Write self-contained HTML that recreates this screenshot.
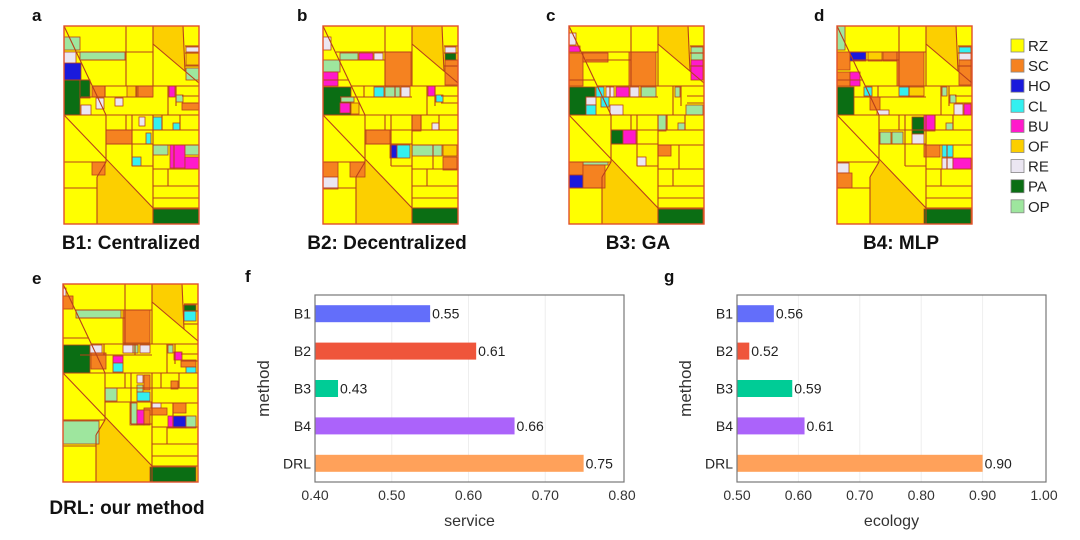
<!DOCTYPE html>
<html><head><meta charset="utf-8"><style>
body{margin:0;width:1080px;height:540px;background:#fff;position:relative;overflow:hidden;font-family:"Liberation Sans",sans-serif}
.lbl{position:absolute;font-weight:bold;font-size:17px;color:#111}
.ttl{position:absolute;font-family:"Liberation Sans",sans-serif;font-weight:bold;font-size:19px;color:#111;white-space:nowrap;transform:translateX(-50%)}
svg{position:absolute;overflow:visible}
</style></head><body>
<div class="lbl" style="left:32px;top:6px">a</div>
<div class="lbl" style="left:297px;top:6px">b</div>
<div class="lbl" style="left:546px;top:6px">c</div>
<div class="lbl" style="left:814px;top:6px">d</div>
<div class="lbl" style="left:32px;top:269px">e</div>
<div class="lbl" style="left:245px;top:267px">f</div>
<div class="lbl" style="left:664px;top:267px">g</div>
<div class="ttl" style="left:131px;top:233px">B1: Centralized</div>
<div class="ttl" style="left:387px;top:233px">B2: Decentralized</div>
<div class="ttl" style="left:638px;top:233px">B3: GA</div>
<div class="ttl" style="left:901px;top:233px">B4: MLP</div>
<div class="ttl" style="left:127px;top:498px">DRL: our method</div>

<svg id="maps" width="1080" height="540" style="left:0;top:0"></svg>
<svg id="charts" width="1080" height="540" style="left:0;top:0"></svg>

<script>
const NS='http://www.w3.org/2000/svg';
const COL={RZ:'#ffff00',SC:'#f58220',HO:'#1a1adc',CL:'#33f0f0',BU:'#ff1acb',OF:'#fccf00',RE:'#ebe6f2',PA:'#0b6e14',OP:'#9ee69e'};
const legendTypes=['RZ','SC','HO','CL','BU','OF','RE','PA','OP'];
const mapPos=[[64,26],[323,26],[569,26],[837,26],[63,284]];
const mapNames=['map-b1','map-b2','map-b3','map-b4','map-drl'];
const blocks=[
[['OP',0,11,16,13],['OP',16,26,45,8],['RE',0,26,12,13],['HO',0,37,17,17],['PA',0,54,16,35],['PA',16,54,10,18],['SC',28,60,13,11],['SC',74,60,15,11],['OF',63,60,10,11],['BU',105,60,6,11],['OP',112,69,7,7],['SC',118,77,17,7],['RE',17,79,10,10],['RE',32,72,8,11],['RE',51,72,8,8],['OF',122,27,13,12],['RE',122,21,13,5],['OP',122,42,13,12],['RE',75,91,6,9],['CL',89,91,9,13],['CL',109,97,7,7],['CL',82,107,5,11],['SC',42,104,26,14],['OP',89,119,15,10],['BU',106,119,15,23],['BU',121,131,14,12],['OP',121,119,14,10],['CL',68,131,9,9],['SC',28,136,13,13],['PA',89,183,46,15]],
[['RE',0,11,8,13],['OP',17,27,18,7],['BU',36,27,14,7],['RE',51,27,9,7],['OP',0,34,17,12],['BU',0,46,15,14],['PA',0,61,28,28],['OP',18,71,13,5],['BU',17,77,10,10],['OF',28,77,8,11],['SC',62,26,26,34],['SC',122,34,13,25],['PA',122,27,11,7],['RE',122,21,11,6],['CL',51,61,10,10],['OP',62,61,15,10],['RE',78,61,9,10],['BU',105,60,7,10],['CL',113,69,7,7],['SC',89,89,9,16],['RE',109,97,7,7],['SC',43,104,24,14],['HO',67,119,7,13],['CL',74,119,13,13],['OP',89,119,30,11],['OF',120,119,14,11],['SC',120,131,14,13],['SC',0,136,15,15],['SC',27,136,15,15],['RE',0,151,15,12],['PA',89,182,46,16]],
[['RE',0,7,7,12],['BU',0,20,11,6],['SC',0,27,14,33],['SC',14,27,25,9],['SC',60,26,27,34],['OP',122,21,12,13],['BU',122,34,12,20],['PA',0,61,26,28],['RE',17,71,10,8],['CL',17,79,10,10],['CL',27,61,8,10],['RE',37,61,8,10],['BU',47,61,13,10],['RE',61,61,9,10],['OP',72,61,15,10],['OP',106,61,5,10],['CL',32,71,8,10],['RE',41,79,13,10],['OP',117,79,17,10],['OP',89,89,8,16],['OP',109,97,7,7],['PA',42,104,12,14],['BU',54,104,13,14],['SC',89,119,13,11],['RE',68,131,9,9],['OP',14,136,25,3],['SC',0,136,14,13],['HO',0,149,14,13],['SC',14,139,22,23],['PA',89,183,45,15]],
[['OP',0,0,8,24],['SC',0,26,13,18],['HO',13,26,16,9],['OF',31,26,14,9],['SC',46,26,14,9],['SC',60,26,27,34],['CL',122,21,12,6],['RE',122,27,12,7],['SC',122,34,12,25],['SC',0,46,13,14],['BU',13,46,10,14],['PA',0,61,17,28],['CL',27,61,8,9],['CL',62,61,10,9],['OF',72,61,15,9],['OP',105,61,5,9],['OP',113,69,6,8],['RE',117,78,9,11],['BU',127,78,7,11],['SC',33,71,10,13],['RE',40,84,12,5],['PA',75,91,12,17],['BU',87,89,11,16],['OP',109,97,7,7],['OP',43,106,11,12],['OP',55,106,11,12],['RE',75,108,12,10],['SC',87,119,16,12],['CL',105,119,11,12],['RE',105,132,11,11],['BU',116,132,18,11],['RE',0,137,12,10],['SC',0,147,15,15],['PA',87,183,47,15]],
[['RE',0,4,3,8],['SC',0,12,10,13],['OP',13,26,45,8],['SC',60,26,27,33],['PA',121,21,12,7],['CL',121,27,12,10],['PA',0,61,27,28],['RE',27,61,12,8],['SC',28,69,15,16],['RE',60,61,10,8],['OP',70,61,5,8],['RE',77,61,10,8],['OP',105,61,5,8],['BU',50,72,10,7],['CL',50,79,10,9],['BU',111,68,8,8],['SC',118,76,15,7],['CL',123,83,10,6],['RE',74,91,6,8],['SC',81,91,6,15],['SC',108,97,7,8],['OP',42,104,12,13],['OP',74,101,6,7],['CL',74,108,13,9],['OP',67,119,7,22],['RE',88,119,10,5],['SC',81,124,23,7],['SC',110,119,13,10],['BU',74,126,7,15],['SC',81,126,6,15],['BU',105,132,5,12],['HO',110,132,13,12],['OP',123,132,10,12],['OP',0,137,36,23],['PA',87,183,46,15]]
];
const lines=[[0,0,42,89],[62,0,62,60],[89,0,89,60],[13,26,89,26],[17,34,62,34],[89,18,135,57],[119,0,121,45],[121,20,135,20],[121,27,135,27],[121,40,135,40],[28,60,135,60],[0,89,135,89],[0,54,26,54],[17,71,89,71],[41,60,41,71],[72,60,72,71],[104,60,104,89],[112,60,112,80],[118,77,135,77],[118,70,135,70],[0,89,89,182],[42,89,42,136],[0,136,42,136],[42,136,33,151],[33,151,33,198],[0,162,33,162],[62,89,62,104],[42,104,89,104],[68,89,68,140],[42,118,89,118],[89,89,89,198],[98,89,98,104],[116,89,116,104],[89,104,135,104],[89,119,135,119],[89,143,135,143],[104,143,104,160],[110,119,110,143],[89,160,135,160],[89,172,135,172],[89,182,135,182],[68,140,89,140]];
const M=document.getElementById('maps');
function el(tag,attrs,parent){const e=document.createElementNS(NS,tag);for(const k in attrs)e.setAttribute(k,attrs[k]);parent.appendChild(e);return e;}
mapPos.forEach((p,i)=>{
  const g=el('g',{transform:`translate(${p[0]},${p[1]})`},M);
  
  
  el('rect',{x:0,y:0,width:135,height:198,fill:COL.RZ},g);
  el('polygon',{points:'89,0 119,0 121,45 89,18',fill:COL.OF},g);
  el('polygon',{points:'42,134 89,182 89,198 33,198 33,151',fill:COL.OF},g);
  blocks[i].forEach(b=>{
    const r=el('rect',{x:b[1],y:b[2],width:b[3],height:b[4],fill:COL[b[0]],stroke:'#b8401a','stroke-width':0.8},g);
    
    
  });
  lines.forEach(l=>el('line',{x1:l[0],y1:l[1],x2:l[2],y2:l[3],stroke:'#b8401a','stroke-width':1.1},g));
  el('rect',{x:0,y:0,width:135,height:198,fill:'none',stroke:'#e0502a','stroke-width':1.4},g);
});
legendTypes.forEach((t,i)=>{
  const y=39+i*20.1;
  const r=el('rect',{x:1011,y:y,width:13,height:13,fill:COL[t],stroke:'#888','stroke-width':0.8},M);
  
  
  const tx=el('text',{x:1028,y:y+12,'font-size':15,fill:'#222','font-family':'Liberation Sans, sans-serif'},M);
  tx.textContent=t;
  
  
});
</script>

<script>
const categories=['B1','B2','B3','B4','DRL'];
const serviceValues=[0.55,0.61,0.43,0.66,0.75];
const ecologyValues=[0.56,0.52,0.59,0.61,0.90];
const serviceTicks=[0.40,0.50,0.60,0.70,0.80];
const ecologyTicks=[0.50,0.60,0.70,0.80,0.90,1.00];
const barColors=['#636efa','#ef553b','#00cc96','#ab63fa','#ffa15a'];
(function(){
const NS='http://www.w3.org/2000/svg';
const C=document.getElementById('charts');
function el(tag,attrs,parent){const e=document.createElementNS(NS,tag);for(const k in attrs)e.setAttribute(k,attrs[k]);parent.appendChild(e);return e;}
function chart(name,left,values,ticks,title){
  const g=el('g',{},C);
  
  
  const top=295,bottom=482,w=307,right=left+309;
  const lo=ticks[0],hi=ticks[ticks.length-1];
  const x=v=>left+(v-lo)/(hi-lo)*w;
  const band=(bottom-top)/categories.length;
  const y=i=>top+band*(i+0.5);
  ticks.forEach(t=>{
    if(t>lo&&t<hi) el('line',{x1:x(t),y1:top,x2:x(t),y2:bottom,stroke:'#eeeeee','stroke-width':1},g);
    const tl=el('text',{x:x(t),y:500,'text-anchor':'middle','font-size':14,fill:'#333'},g);
    tl.textContent=t.toFixed(2);
    
    
  });
  categories.forEach((c,i)=>{
    const b=el('rect',{x:x(lo),y:y(i)-8.5,width:x(values[i])-x(lo),height:17,fill:barColors[i]},g);
    
    
    const vt=el('text',{x:x(values[i])+2,y:y(i)+5,'font-size':14,fill:'#222'},g);
    vt.textContent=values[i].toFixed(2);
    
    
    const ct=el('text',{x:left-4,y:y(i)+5,'text-anchor':'end','font-size':14,fill:'#222'},g);
    ct.textContent=c;
    
    
  });
  el('rect',{x:left,y:top,width:right-left,height:bottom-top,fill:'none',stroke:'#777','stroke-width':1.2},g);
  const yt=el('text',{x:0,y:0,transform:`translate(${left-46},${(top+bottom)/2}) rotate(-90)`,'text-anchor':'middle','font-size':17,fill:'#333'},g);
  yt.textContent='method';
  
  
  const xt=el('text',{x:(left+right)/2,y:526,'text-anchor':'middle','font-size':16,fill:'#333'},g);
  xt.textContent=title;
  
  
}
chart('service-chart',315,serviceValues,serviceTicks,'service');
chart('ecology-chart',737,ecologyValues,ecologyTicks,'ecology');
})();
</script>
</body></html>
